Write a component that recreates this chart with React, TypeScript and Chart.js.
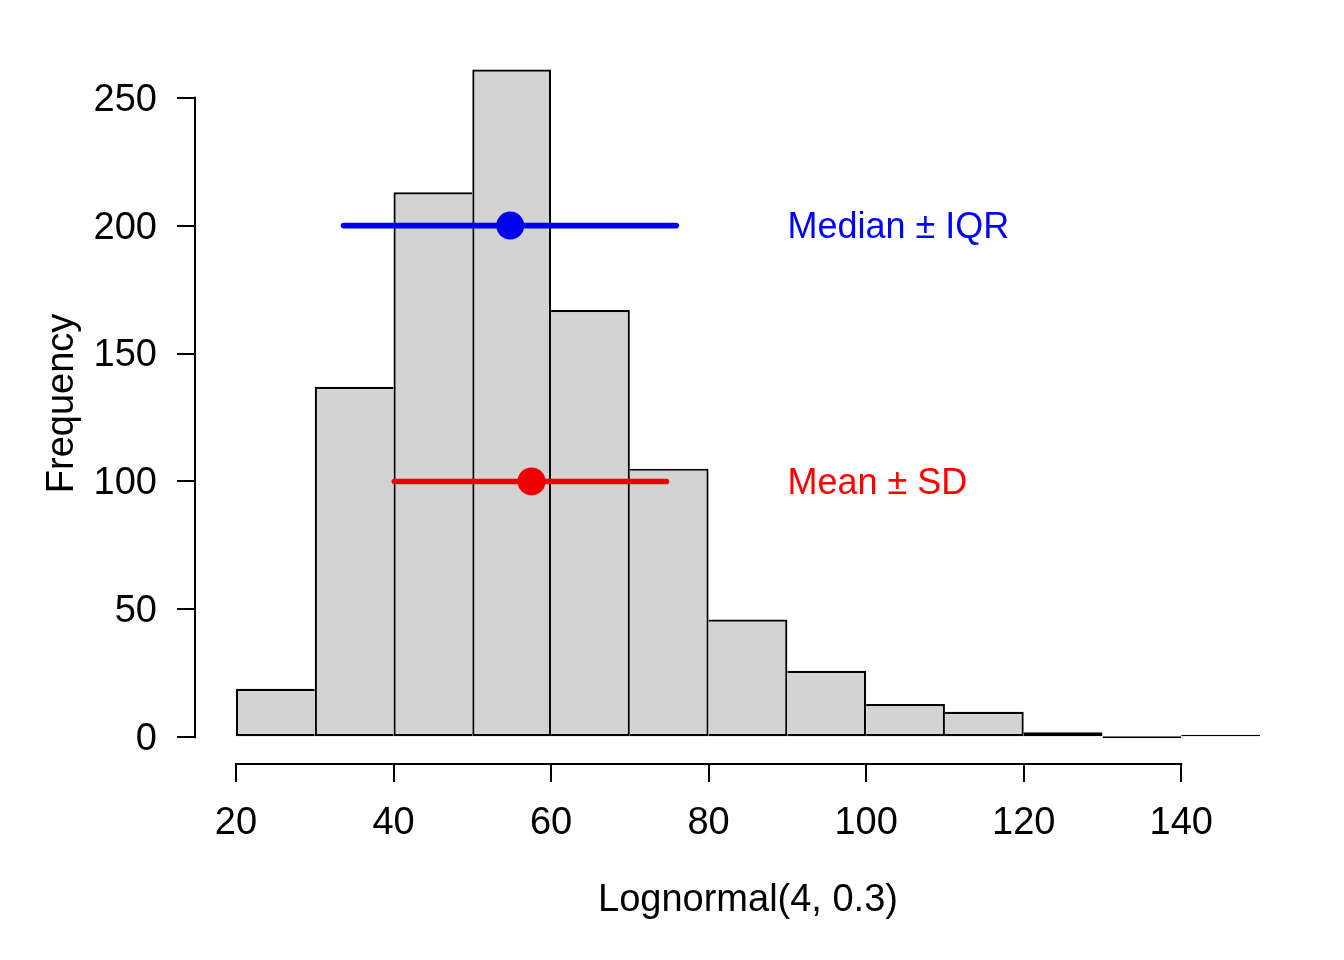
import React, { useEffect, useRef } from "react";
import { Chart, registerables } from "chart.js";

Chart.register(...registerables);

// ---- data ----
const BIN_EDGES = [20, 30, 40, 50, 60, 70, 80, 90, 100, 110, 120, 130, 140, 150];
const COUNTS = [19, 137, 213, 261, 167, 105, 46, 26, 13, 10, 2, 0, 1];
const X_TICKS = [20, 40, 60, 80, 100, 120, 140];
const Y_TICKS = [0, 50, 100, 150, 200, 250];

const MEDIAN = 54.82;
const IQR_RANGE = [33.66, 75.89];
const MEDIAN_Y = 200;

const MEAN = 57.52;
const SD_RANGE = [40.1, 74.65];
const MEAN_Y = 100;

const LABEL_X = 90;
const MEDIAN_LABEL = "Median \u00B1 IQR";
const MEAN_LABEL = "Mean \u00B1 SD";
const X_TITLE = "Lognormal(4, 0.3)";
const Y_TITLE = "Frequency";

const FONT = "'Liberation Sans', Arial, sans-serif";

// R-style 4% axis extension
const xLo = BIN_EDGES[0];
const xHi = BIN_EDGES[BIN_EDGES.length - 1];
const yHi = Math.max(...COUNTS);
const X_MIN = xLo - 0.04 * (xHi - xLo);
const X_MAX = xHi + 0.04 * (xHi - xLo);
const Y_MIN = -0.04 * yHi;
const Y_MAX = yHi + 0.04 * yHi;

const BLUE_LINE = "#0000EE";
const RED_LINE = "#EE0000";

const rPlugin = {
  id: "rAxesAndText",
  afterDraw(chart: any) {
    const { ctx } = chart;
    const xs = chart.scales.x;
    const ys = chart.scales.y;
    ctx.save();
    ctx.strokeStyle = "#000";
    ctx.lineWidth = 2;
    ctx.lineCap = "butt";
    ctx.beginPath();
    ctx.moveTo(xs.getPixelForValue(X_TICKS[0]) - 1, xs.top);
    ctx.lineTo(xs.getPixelForValue(X_TICKS[X_TICKS.length - 1]) + 1, xs.top);
    ctx.moveTo(ys.right, ys.getPixelForValue(Y_TICKS[0]) + 1);
    ctx.lineTo(ys.right, ys.getPixelForValue(Y_TICKS[Y_TICKS.length - 1]) - 1);
    ctx.stroke();

    ctx.font = `36px ${FONT}`;
    ctx.textAlign = "left";
    ctx.textBaseline = "alphabetic";
    ctx.fillStyle = "#0000FF";
    ctx.fillText(MEDIAN_LABEL, xs.getPixelForValue(LABEL_X), ys.getPixelForValue(MEDIAN_Y) + 12.9);
    ctx.fillStyle = "#FF0000";
    ctx.fillText(MEAN_LABEL, xs.getPixelForValue(LABEL_X), ys.getPixelForValue(MEAN_Y) + 12.9);
    ctx.restore();
  },
};

export default function App() {
  const ref = useRef<HTMLCanvasElement | null>(null);

  useEffect(() => {
    if (!ref.current) return;
    Chart.defaults.font.family = FONT;
    Chart.defaults.color = "#000";

    const mids = COUNTS.map((_, i) => (BIN_EDGES[i] + BIN_EDGES[i + 1]) / 2);
    const bw = 2.2;

    const chart = new Chart(ref.current, {
      type: "bar",
      data: {
        datasets: [
          {
            type: "bar",
            order: 3,
            data: mids.map((m, i) => ({ x: m, y: COUNTS[i] })),
            backgroundColor: "#D3D3D3",
            borderColor: "#000",
            borderSkipped: false,
            minBarLength: 2,
            inflateAmount: 0,
            barPercentage: 1,
            categoryPercentage: 1,
            borderWidth: (c: any) => {
              const i = c.dataIndex;
              const v = COUNTS;
              return {
                top: bw,
                bottom: bw,
                left: i === 0 || v[i] > v[i - 1] ? bw : 0,
                right: i === v.length - 1 || v[i] >= v[i + 1] ? bw : 0,
              };
            },
          } as any,
          {
            type: "line",
            order: 2,
            data: IQR_RANGE.map((x) => ({ x, y: MEDIAN_Y })),
            borderColor: BLUE_LINE,
            borderWidth: 5.6,
            borderCapStyle: "round",
            pointRadius: 0,
          },
          {
            type: "line",
            order: 2,
            data: SD_RANGE.map((x) => ({ x, y: MEAN_Y })),
            borderColor: RED_LINE,
            borderWidth: 5.6,
            borderCapStyle: "round",
            pointRadius: 0,
          },
          {
            type: "line",
            order: 1,
            showLine: false,
            data: [{ x: MEDIAN, y: MEDIAN_Y }],
            pointRadius: 14,
            pointBorderWidth: 0,
            pointBackgroundColor: BLUE_LINE,
            borderColor: BLUE_LINE,
          },
          {
            type: "line",
            order: 1,
            showLine: false,
            data: [{ x: MEAN, y: MEAN_Y }],
            pointRadius: 14,
            pointBorderWidth: 0,
            pointBackgroundColor: RED_LINE,
            borderColor: RED_LINE,
          },
        ],
      },
      options: {
        responsive: false,
        animation: false,
        devicePixelRatio: 1,
        layout: { padding: { top: 42, right: 43, left: 0, bottom: 0 } },
        plugins: { legend: { display: false }, tooltip: { enabled: false } },
        scales: {
          x: {
            type: "linear",
            min: X_MIN,
            max: X_MAX,
            offset: false,
            afterBuildTicks: (s: any) => {
              s.ticks = X_TICKS.map((v) => ({ value: v }));
            },
            afterFit: (s: any) => {
              s.height = 196;
            },
            border: { display: false },
            grid: {
              offset: false,
              drawOnChartArea: false,
              drawTicks: true,
              tickLength: 18,
              lineWidth: 2,
              color: "#000",
              tickColor: "#000",
            },
            ticks: {
              font: { size: 38 },
              color: "#000",
              padding: 19,
              maxRotation: 0,
              autoSkip: false,
            },
            title: {
              display: true,
              text: X_TITLE,
              font: { size: 38 },
              color: "#000",
              padding: { top: 0, bottom: 37 },
            },
          },
          y: {
            type: "linear",
            min: Y_MIN,
            max: Y_MAX,
            offset: false,
            afterBuildTicks: (s: any) => {
              s.ticks = Y_TICKS.map((v) => ({ value: v }));
            },
            afterFit: (s: any) => {
              s.width = 195;
            },
            border: { display: false },
            grid: {
              offset: false,
              drawOnChartArea: false,
              drawTicks: true,
              tickLength: 18,
              lineWidth: 2,
              color: "#000",
              tickColor: "#000",
            },
            ticks: {
              font: { size: 38 },
              color: "#000",
              padding: 20,
              labelOffset: 2.5,
              autoSkip: false,
            },
            title: {
              display: true,
              text: Y_TITLE,
              font: { size: 38 },
              color: "#000",
              padding: { top: 40, bottom: 0 },
            },
          },
        },
      },
      plugins: [rPlugin],
    } as any);

    return () => chart.destroy();
  }, []);

  return (
    <div style={{ position: "absolute", left: 0, top: 0, width: 1344, height: 960, background: "#fff" }}>
      <canvas ref={ref} width={1344} height={960} style={{ width: 1344, height: 960, display: "block" }} />
    </div>
  );
}
